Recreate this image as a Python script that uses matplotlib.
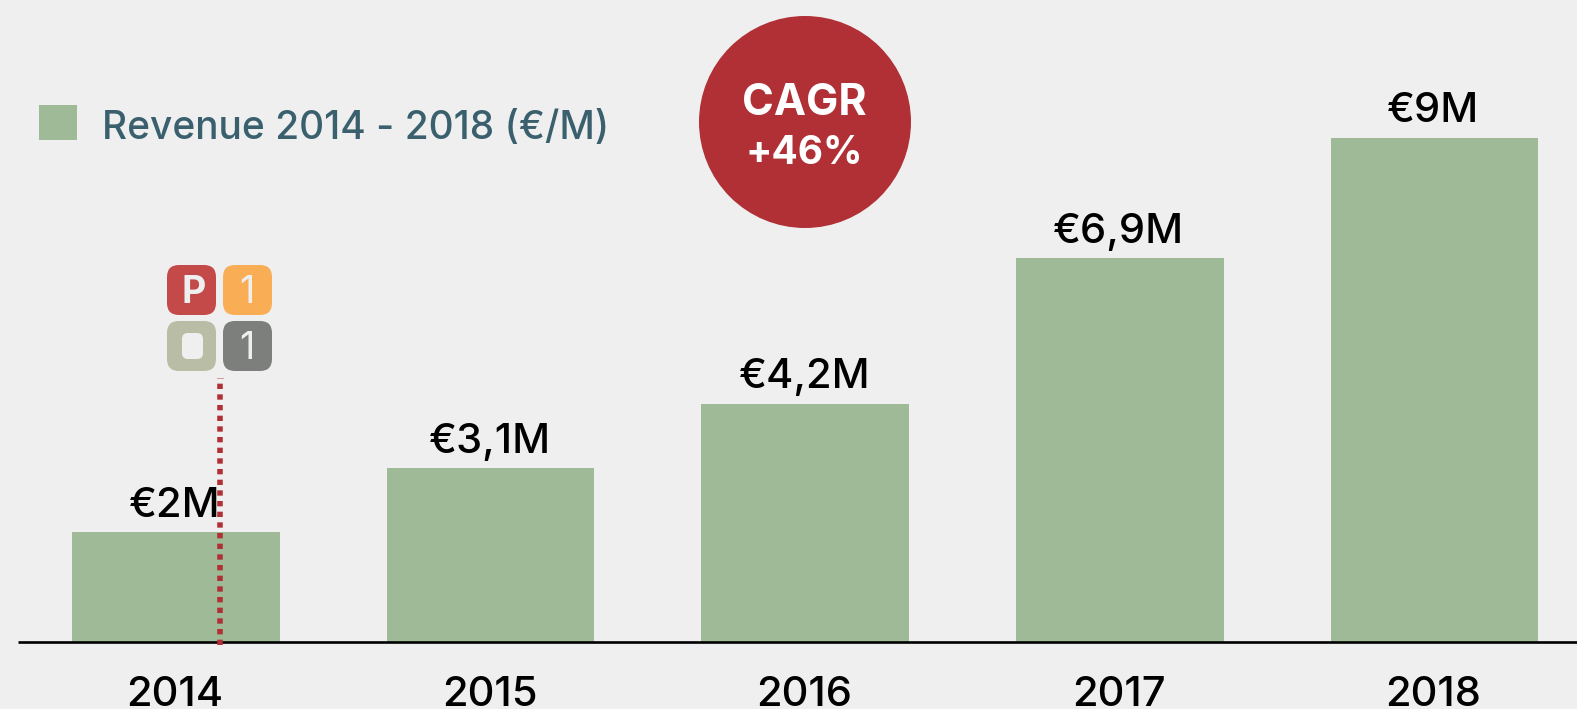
import matplotlib
matplotlib.use('Agg')
import matplotlib.pyplot as plt
from matplotlib.patches import FancyBboxPatch, Circle, Rectangle

years = ['2014', '2015', '2016', '2017', '2018']
revenue = [1.96, 3.09, 4.25, 6.84, 9.0]
labels = ['€2M', '€3,1M', '€4,2M', '€6,9M', '€9M']
legend_label = 'Revenue 2014 - 2018 (€/M)'
cagr_lines = ['CAGR', '+46%']

W, H = 1577, 709
BG = '#EFEFEF'
GREEN = '#9FBA96'
RED = '#B03036'
plt.rcParams['font.family'] = ['Inter', 'DejaVu Sans']

fig = plt.figure(figsize=(W/100, H/100), dpi=100, facecolor=BG)
ax = fig.add_axes([0, 0, 1, 1])
ax.set_facecolor(BG)
ax.set_xlim(-176/314.6, (W-176)/314.6)
y0 = 641.5
per = 56.0
ax.set_ylim(-(H-y0)/per, y0/per)
ax.axis('off')
ax.bar(range(5), revenue, width=0.66, color=GREEN, edgecolor='none', zorder=2)
for i, (v, l, yr) in enumerate(zip(revenue, labels, years)):
    ax.annotate(l, (i, v), xytext=(-1, 15), textcoords='offset pixels', ha='center', va='baseline',
                fontsize=30, color='black', zorder=4, fontweight='medium')
    ax.annotate(yr, (i, 0), xytext=(-1, -64), textcoords='offset pixels', ha='center', va='baseline',
                fontsize=30, color='black', zorder=4, fontweight='medium')

ov = fig.add_axes([0, 0, 1, 1], facecolor='none')
ov.set_xlim(0, W); ov.set_ylim(H, 0); ov.axis('off')
ov.plot([18, W], [642.3, 642.3], color='black', lw=1.9, solid_capstyle='butt', zorder=3)
ov.add_patch(Rectangle((39, 105), 38, 35, color=GREEN, lw=0))
ov.text(102, 139.5, legend_label, fontsize=28, color='#3A606E', va='baseline', ha='left', fontweight='medium')
ov.add_patch(Circle((805, 122), 106, color=RED, lw=0))
ov.text(804, 115, cagr_lines[0], fontsize=31, color='white', fontweight='bold', ha='center', va='baseline')
ov.text(804, 164, cagr_lines[1], fontsize=28, color='white', fontweight='bold', ha='center', va='baseline')
for (x, y, c) in [(167, 265, '#C44A4A'), (223, 265, '#F9AE56'), (167, 321, '#B9BDA5'), (223, 321, '#7C7F7B')]:
    ov.add_patch(FancyBboxPatch((x+12, y+12), 25, 26, boxstyle='round,pad=12,rounding_size=12', color=c, lw=0))
ov.text(194, 303, 'P', color=BG, fontsize=27, fontweight='bold', ha='center', va='baseline')
ov.add_patch(FancyBboxPatch((187, 338), 11, 16, boxstyle='round,pad=5,rounding_size=6', color=BG, lw=0))
ov.text(247, 303, '1', color=BG, fontsize=27, fontweight='normal', ha='center', va='baseline')
ov.text(247, 359, '1', color=BG, fontsize=27, fontweight='normal', ha='center', va='baseline')
ov.plot([217, 223], [377.5, 377.5], color=RED, lw=0.7, alpha=0.45, zorder=5)
ov.plot([219.7, 219.7], [645, 383], color=RED, lw=4, ls=(0, (0.96, 0.96)), dash_capstyle='butt', zorder=5)
fig.savefig('out.png', dpi=100, facecolor=BG)
